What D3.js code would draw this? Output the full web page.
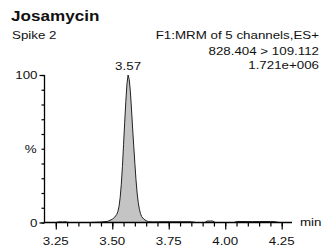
<!DOCTYPE html>
<html>
<head>
<meta charset="utf-8">
<script src="https://cdn.jsdelivr.net/npm/d3@7"></script>
<style>
  html, body { margin: 0; padding: 0; background: #fff; }
  svg { display: block; font-family: "Liberation Sans", Arial, sans-serif; }
</style>
</head>
<body>
<div id="chart"></div>
<script>
// Chromatogram trace: retention time (min) and relative intensity (%)
const times = [
  3.20, 3.25, 3.27, 3.28, 3.29, 3.31, 3.40, 3.45, 3.48, 3.49,
  3.50, 3.51, 3.52, 3.525, 3.53, 3.535, 3.54, 3.545, 3.55, 3.555,
  3.56, 3.565, 3.57, 3.575, 3.58, 3.585, 3.59, 3.595, 3.60, 3.605,
  3.61, 3.615, 3.62, 3.625, 3.63, 3.64, 3.65, 3.66, 3.68, 3.72,
  3.80, 3.85, 3.87, 3.91, 3.92, 3.945, 3.955, 4.04, 4.05, 4.12,
  4.20, 4.22, 4.24, 4.29
];
const intensity = [
  0, 0, 0.5, 0.3, 0.5, 0, 0, 0.3, 0.8, 1.5,
  2.2, 3.5, 5.5, 7.5, 11, 17, 26, 38, 53, 68,
  82, 94, 100, 97, 89, 77, 64, 52, 40, 29,
  20, 13.5, 9, 6, 4, 2.2, 1.2, 0.6, 0.4, 0.5,
  0.5, 0.5, 0, 0, 1, 1, 0, 0, 0.7, 0.6,
  0.7, 0.5, 0, 0
];
const xTicks = [3.25, 3.50, 3.75, 4.00, 4.25];
const yTicks = [0, 100];
const peakTime = 3.57;

const W = 324, H = 249;
const svg = d3.select('#chart').append('svg')
  .attr('width', W).attr('height', H);

const x = d3.scaleLinear().domain([3.20, 4.30]).range([44.5, 293]);
const y = d3.scaleLinear().domain([0, 100]).range([222.5, 75]);

// stretched text helper (reference text is wider than Arial)
function label(px, py, txt, opts) {
  const o = Object.assign({ size: 11.5, anchor: 'start', weight: 'normal', sx: 1.16 }, opts);
  svg.append('text')
    .attr('transform', `translate(${px},${py}) scale(${o.sx},1)`)
    .attr('text-anchor', o.anchor)
    .attr('font-size', o.size + 'px')
    .attr('font-weight', o.weight)
    .attr('fill', '#111')
    .text(txt);
}

const pts = times.map((t, i) => [t, intensity[i]]);

// filled peak
svg.append('path')
  .datum(pts)
  .attr('d', d3.area().x(d => x(d[0])).y0(y(0)).y1(d => y(d[1])))
  .attr('fill', '#c4c4c4');

svg.append('path')
  .datum(pts)
  .attr('d', d3.line().x(d => x(d[0])).y(d => y(d[1])))
  .attr('fill', 'none')
  .attr('stroke', '#222')
  .attr('stroke-width', 1);

// x axis
const xAxis = svg.append('g').attr('transform', `translate(0,${y(0)})`);
xAxis.append('line')
  .attr('x1', x(3.20)).attr('x2', x(4.30) - 1)
  .attr('stroke', '#000').attr('stroke-width', 1.3);
xAxis.call(g => g.append('g')
  .call(d3.axisBottom(x).tickValues(d3.range(3.25, 4.2501, 0.05)).tickSize(4).tickFormat(''))
  .call(a => a.select('.domain').remove())
  .selectAll('line').attr('stroke', '#000').attr('stroke-width', 1.2));
xAxis.call(g => g.append('g')
  .call(d3.axisBottom(x).tickValues(xTicks).tickSize(7).tickFormat(''))
  .call(a => a.select('.domain').remove())
  .selectAll('line').attr('stroke', '#000').attr('stroke-width', 1.2));
xTicks.forEach(t => label(x(t), 245, t.toFixed(2), { anchor: 'middle' }));
label(300, 226, 'min', { size: 11.5 });

// y axis
const yAxis = svg.append('g').attr('transform', `translate(${x(3.20)},0)`);
yAxis.append('line')
  .attr('y1', y(0)).attr('y2', y(100))
  .attr('stroke', '#000').attr('stroke-width', 1.3);
yAxis.call(g => g.append('g')
  .call(d3.axisLeft(y).tickValues(d3.range(0, 101, 10)).tickSize(3).tickFormat(''))
  .call(a => a.select('.domain').remove())
  .selectAll('line').attr('stroke', '#000').attr('stroke-width', 1.2));
yAxis.call(g => g.append('g')
  .call(d3.axisLeft(y).tickValues(yTicks).tickSize(5).tickFormat(''))
  .call(a => a.select('.domain').remove())
  .selectAll('line').attr('stroke', '#000').attr('stroke-width', 1.2));
yTicks.forEach(v => label(x(3.20) - 7, y(v) + 4, String(v), { anchor: 'end' }));
label(x(3.20) - 8, y(50) + 4, '%', { anchor: 'end' });

// peak label
label(x(peakTime), 70, peakTime.toFixed(2), { anchor: 'middle' });

// header texts
label(11, 21, 'Josamycin', { size: 15, weight: 'bold', sx: 1.14 });
label(12, 39, 'Spike 2', { size: 11.5 });
label(319, 39, 'F1:MRM of 5 channels,ES+', { anchor: 'end' });
label(319, 54.5, '828.404 > 109.112', { anchor: 'end' });
label(319, 68.5, '1.721e+006', { anchor: 'end' });
</script>
</body>
</html>
